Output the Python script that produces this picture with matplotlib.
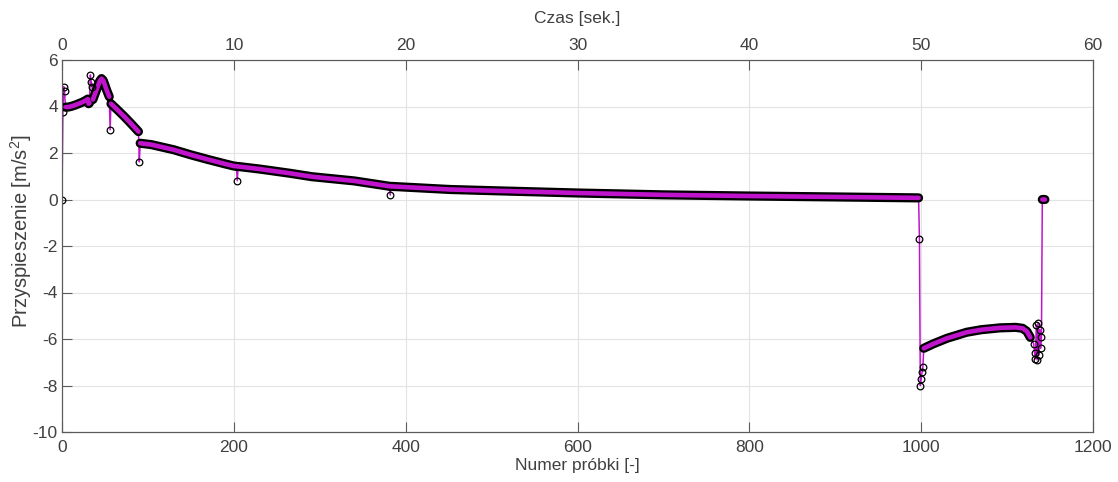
import numpy as np
import matplotlib.pyplot as plt

plt.rcParams['font.family'] = ['Liberation Sans', 'DejaVu Sans']
plt.rcParams['mathtext.fontset'] = 'custom'
plt.rcParams['mathtext.rm'] = 'Liberation Sans'
plt.rcParams['mathtext.it'] = 'Liberation Sans'
plt.rcParams['axes.unicode_minus'] = False

# values (sample number, acceleration)
sample = [0, 1, 2, 3, 4, 8, 12, 16, 20, 24, 28, 30, 31, 32,
          33, 34, 35, 36, 38, 41, 44, 46, 48, 50, 52, 55,
          56, 57, 65, 73, 81, 89,
          90, 91, 104, 130, 150, 170, 190, 200, 203,
          204, 205, 230, 265, 291, 340, 381,
          382, 383, 452, 500, 600, 700, 800, 900, 997,
          998, 999, 1000, 1001, 1002,
          1003, 1014, 1030, 1053, 1070, 1092, 1110, 1118, 1123, 1127,
          1131, 1132, 1133, 1134, 1135, 1136, 1137, 1138, 1139, 1140,
          1141, 1142, 1143, 1144]
accel = [0.0, 3.75, 4.85, 4.65, 3.97, 3.98, 4.02, 4.07, 4.13, 4.19, 4.27, 4.32, 4.12, 4.15,
         5.36, 5.07, 4.85, 4.30, 4.50, 4.80, 5.10, 5.20, 5.12, 4.92, 4.70, 4.42,
         3.0, 4.12, 3.84, 3.55, 3.24, 2.92,
         1.62, 2.42, 2.36, 2.14, 1.92, 1.72, 1.53, 1.44, 1.43,
         0.81, 1.42, 1.31, 1.13, 0.98, 0.80, 0.57,
         0.19, 0.565, 0.43, 0.38, 0.28, 0.20, 0.15, 0.11, 0.07,
         -1.71, -8.0, -7.71, -7.43, -7.21,
         -6.40, -6.21, -5.97, -5.71, -5.60, -5.52, -5.50, -5.54, -5.67, -5.93,
         -6.2, -6.6, -6.85, -5.4, -6.9, -5.3, -6.7, -5.6, -6.4, -5.9,
         0.0, 0.0, 0.0, 0.0]

# samples lying off the smooth trace (drawn as loose circles)
loose = [0, 1, 2, 3, 33, 34, 35, 56, 90, 204, 382,
         998, 999, 1000, 1001, 1002,
         1131, 1132, 1133, 1134, 1135, 1136, 1137, 1138, 1139, 1140]

fs = 20.0  # samples per second
magenta = '#c014cc'

x = np.array(sample, dtype=float)
y = np.array(accel, dtype=float)
mask = np.isin(x, loose)
band = y.copy()
band[mask] = np.nan

fig = plt.figure(figsize=(11.18, 4.82), dpi=100)
ax = fig.add_axes([62 / 1118, 50 / 482, 1031 / 1118, 372 / 482])

ax.plot(x, y, color=magenta, lw=1.1, zorder=2)
ax.plot(x, band, color='black', lw=6.6, solid_capstyle='round',
        solid_joinstyle='round', zorder=3)
ax.plot(x, band, color=magenta, lw=3.3, solid_capstyle='round',
        solid_joinstyle='round', zorder=4)
ax.plot(x[mask], y[mask], 'o', ms=4.8, mfc='none', mec='black', mew=0.9, zorder=5)

ax.set_xlim(0, 1200)
ax.set_ylim(-10, 6)
ax.set_xticks(np.arange(0, 1201, 200))
ax.set_yticks(np.arange(-10, 7, 2))
ax.grid(True, color='#e3e3e3', lw=0.8)
ax.set_axisbelow(True)

txt = '#404040'
for s in ax.spines.values():
    s.set_color('#5a5a5a')
    s.set_linewidth(0.8)
ax.tick_params(direction='in', length=7, width=0.8, color='#5a5a5a',
               labelsize=12.5, labelcolor=txt)
ax.tick_params(axis='x', pad=6)
ax.tick_params(axis='y', pad=3)
ax.set_xlabel('Numer próbki [-]', fontsize=12.5, color=txt, labelpad=2)
ax.set_ylabel('Przyspieszenie [m/s$^2$]', fontsize=14.5, color=txt)
ax.yaxis.set_label_coords(-0.027, 0.54)

top = ax.twiny()
top.set_xlim(0, 1200 / fs)
top.set_xticks(np.arange(0, 61, 10))
top.tick_params(direction='in', length=7, width=0.8, color='#5a5a5a',
                labelsize=12.5, labelcolor=txt, pad=5)
for s in top.spines.values():
    s.set_color('#5a5a5a')
    s.set_linewidth(0.8)
top.set_xlabel('Czas [sek.]', fontsize=12.5, color=txt, labelpad=11)

fig.savefig('out.png', dpi=100)
